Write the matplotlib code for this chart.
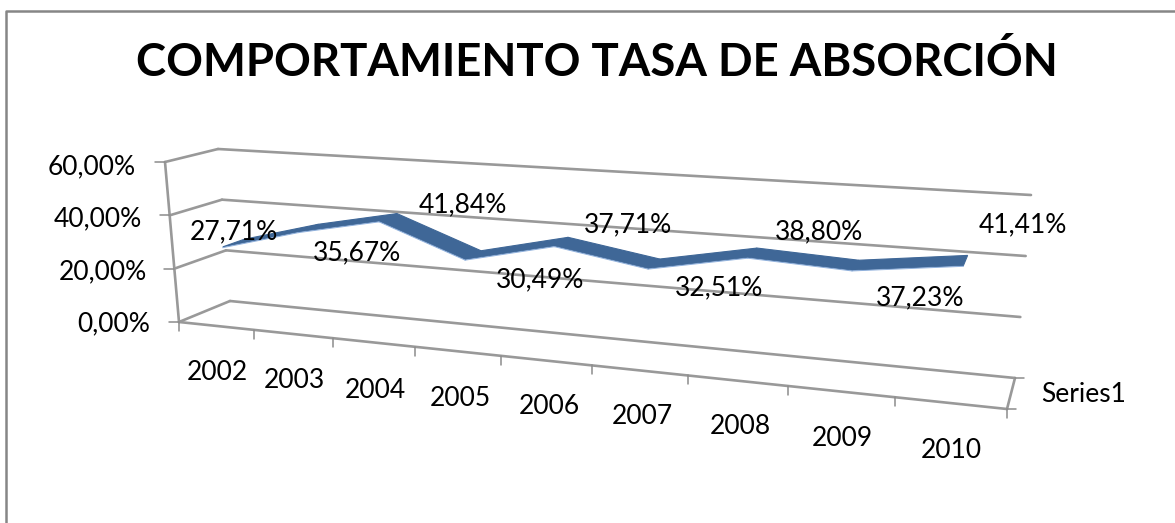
import numpy as np
import matplotlib
matplotlib.use("Agg")
import matplotlib.pyplot as plt
from matplotlib.patches import Polygon

years = ["2002", "2003", "2004", "2005", "2006", "2007", "2008", "2009", "2010"]
tasa = [27.71, 35.67, 41.84, 30.49, 37.71, 32.51, 38.80, 37.23, 41.41]
value_ticks = [0, 20, 40, 60]
value_labels = ["0,00%", "20,00%", "40,00%", "60,00%"]
series_name = "Series1"
title = "COMPORTAMIENTO TASA DE ABSORCIÓN"

# corners of the 3d box in pixels: [front/back][left/right][bottom/top]
FL0, FL1 = np.array([179.0, 322.0]), np.array([165.0, 162.0])
FR0, FR1 = np.array([1007.0, 409.0]), np.array([1025.0, 216.0])
BL0, BL1 = np.array([230.0, 301.0]), np.array([218.0, 149.0])
BR0, BR1 = np.array([1015.0, 378.0]), np.array([1031.0, 195.0])
PERSP = 1.255
VMAX = 60.0
GRID = "#999999"
RIBBON = "#3f6797"


def project(pos, val, depth):
    # pos in categories (0..9), val in %, depth 0 front .. 1 back
    u = pos / len(years)
    t = u / (u + PERSP * (1 - u))
    v = val / VMAX
    front = (1 - t) * ((1 - v) * FL0 + v * FL1) + t * ((1 - v) * FR0 + v * FR1)
    back = (1 - t) * ((1 - v) * BL0 + v * BL1) + t * ((1 - v) * BR0 + v * BR1)
    return (1 - depth) * front + depth * back


def seg(ax, a, b, lw=1.9, color=GRID):
    ax.plot([a[0], b[0]], [a[1], b[1]], color=color, lw=lw, solid_capstyle="round", zorder=2)


plt.rcParams["font.family"] = ["Lato", "DejaVu Sans"]
fig = plt.figure(figsize=(11.75, 5.23), dpi=100)
ax = fig.add_axes([0, 0, 1, 1])
ax.set_xlim(0, 1175)
ax.set_ylim(523, 0)
ax.axis("off")

# outer chart frame, runs off the picture right and bottom
ax.plot([6, 6, 1180], [530, 11, 11], color="#868686", lw=1.8, zorder=1)

ax.text(597, 62, title, ha="center", va="center", fontsize=32.8, fontweight="bold", color="black")

n = len(years)

# walls and gridlines
for val in value_ticks:
    seg(ax, project(0, val, 0), project(0, val, 1))
    seg(ax, project(0, val, 1), project(n, val, 1))
seg(ax, project(0, 0, 0), project(0, VMAX, 0))
seg(ax, project(0, 0, 0), project(n, 0, 0))
seg(ax, project(n, 0, 0), project(n, 0, 1))

# tick marks
for val in value_ticks:
    p = project(0, val, 0)
    seg(ax, p, p + np.array([-10, 0]), lw=1.1, color="#8c8c8c")
for i in range(n + 1):
    p = project(i, 0, 0)
    seg(ax, p, p + np.array([0, 9]), lw=1.1, color="#8c8c8c")
for d in [0, 1]:
    p = project(n, 0, d)
    seg(ax, p, p + np.array([9, 0]), lw=1.1, color="#8c8c8c")

# ribbon of the 3d line
D_FRONT, D_BACK = 0.25, 0.68
centers = np.arange(n) + 0.5
for i in range(n - 1):
    quad = [project(centers[i], tasa[i], D_FRONT),
            project(centers[i + 1], tasa[i + 1], D_FRONT),
            project(centers[i + 1], tasa[i + 1], D_BACK),
            project(centers[i], tasa[i], D_BACK)]
    ax.add_patch(Polygon(quad, closed=True, facecolor=RIBBON, edgecolor=RIBBON, lw=0.8, zorder=3))
    ax.plot([quad[0][0], quad[1][0]], [quad[0][1] + 0.8, quad[1][1] + 0.8],
            color="#8fb0dc", lw=0.7, zorder=3)

# value labels, Excel placed them by hand around the line
label_x = [234, 357, 463, 540, 628, 719, 819, 920, 1023]
label_y = [232, 253, 205, 280, 225, 288, 232, 298, 225]
for x, y, val in zip(label_x, label_y, tasa):
    ax.text(x, y, f"{val:.2f}%".replace(".", ","), ha="center", va="center",
            fontsize=19, color="black", zorder=5)

# axis labels
for val, lab, r, dy in zip(value_ticks, value_labels, [150, 147, 142, 136], [2, 3, 3, 5]):
    y = project(0, val, 0)[1]
    ax.text(r, y + dy, lab, ha="right", va="center", fontsize=19, color="black", zorder=5)

year_x = [217, 294, 375, 460, 549, 642, 740, 842, 951]
year_y = [372, 381, 390, 398, 407, 417, 427, 438, 450]
for x, y, lab in zip(year_x, year_y, years):
    ax.text(x, y, lab, ha="center", va="center", fontsize=19, color="black", zorder=5)

ax.text(1084, 395, series_name, ha="center", va="center", fontsize=19, color="black", zorder=5)

fig.savefig("out.png", dpi=100)
